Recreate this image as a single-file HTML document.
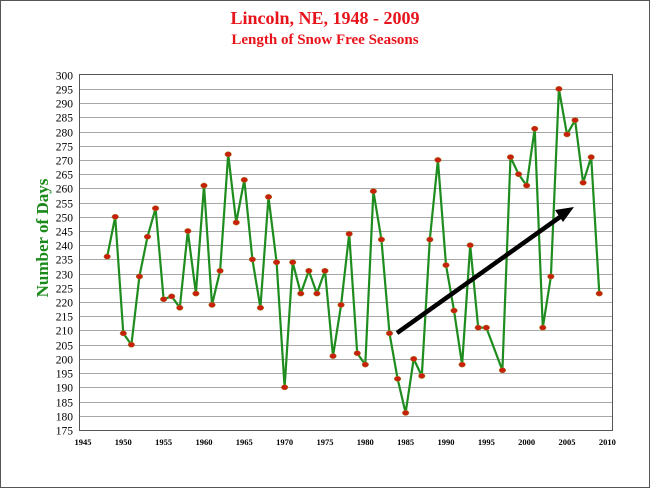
<!DOCTYPE html>
<html><head><meta charset="utf-8"><style>
html,body{margin:0;padding:0;background:#fff}
svg{display:block}
</style></head><body>
<svg id="c" width="650" height="488" xmlns="http://www.w3.org/2000/svg" font-family="Liberation Serif, serif">
<rect x="0.5" y="0.5" width="649" height="487" fill="#fff" stroke="#555" stroke-width="1"/>
<text x="325" y="24" text-anchor="middle" fill="#e8141c" font-size="18" font-weight="bold">Lincoln, NE, 1948 - 2009</text>
<text x="325" y="44" text-anchor="middle" fill="#e8141c" font-size="15" font-weight="bold">Length of Snow Free Seasons</text>
<text transform="translate(48,238) rotate(-90)" text-anchor="middle" fill="#1a8a1a" font-size="17" font-weight="bold">Number of Days</text>
<g id="grid"></g>
<rect x="79.5" y="74.5" width="533" height="356" fill="none" stroke="#555" stroke-width="1"/>
<g id="series"></g>
<line x1="397" y1="333" x2="560" y2="217" stroke="#000" stroke-width="4.5"/>
<polygon points="574,207 555,210 563,222" fill="#000"/>
</svg>
<script>
var ns="http://www.w3.org/2000/svg";
function Y(v){return 74.7+(300-v)*2.842;}
function X(y){return 123.3+(y-1950)*8.067;}
var g=document.getElementById('grid'),s=document.getElementById('series');
function el(p,t,a,txt){var e=document.createElementNS(ns,t);for(var k in a)e.setAttribute(k,a[k]);if(txt)e.textContent=txt;p.appendChild(e);return e;}
for(var v=175;v<=300;v+=5){var y=Math.round(Y(v))+0.5;
 if(v>175&&v<300) el(g,'line',{x1:80,x2:612,y1:y,y2:y,stroke:'#a8a8a8','stroke-width':1});
 el(g,'text',{x:73,y:y+4,'text-anchor':'end','font-size':11.5,fill:'#000'},String(v));}
for(var yr=1945;yr<=2010;yr+=5){el(g,'text',{x:X(yr),y:445,'text-anchor':'middle','font-size':8.5,'font-weight':'bold',fill:'#000'},String(yr));}
var d=[[1948,236],[1949,250],[1950,209],[1951,205],[1952,229],[1953,243],[1954,253],[1955,221],[1956,222],[1957,218],[1958,245],[1959,223],[1960,261],[1961,219],[1962,231],[1963,272],[1964,248],[1965,263],[1966,235],[1967,218],[1968,257],[1969,234],[1970,190],[1971,234],[1972,223],[1973,231],[1974,223],[1975,231],[1976,201],[1977,219],[1978,244],[1979,202],[1980,198],[1981,259],[1982,242],[1983,209],[1984,193],[1985,181],[1986,200],[1987,194],[1988,242],[1989,270],[1990,233],[1991,217],[1992,198],[1993,240],[1994,211],[1995,211],[1997,196],[1998,271],[1999,265],[2000,261],[2001,281],[2002,211],[2003,229],[2004,295],[2005,279],[2006,284],[2007,262],[2008,271],[2009,223]];
el(s,'polyline',{points:d.map(function(p){return X(p[0]).toFixed(1)+','+Y(p[1]).toFixed(1)}).join(' '),fill:'none',stroke:'#1e8c1e','stroke-width':2.2,'stroke-linejoin':'round'});
d.forEach(function(p){el(s,'ellipse',{cx:X(p[0]),cy:Y(p[1]),rx:3.3,ry:2.6,fill:'#c8200c',stroke:'#a08020','stroke-width':0.5});});
</script>
</body></html>
